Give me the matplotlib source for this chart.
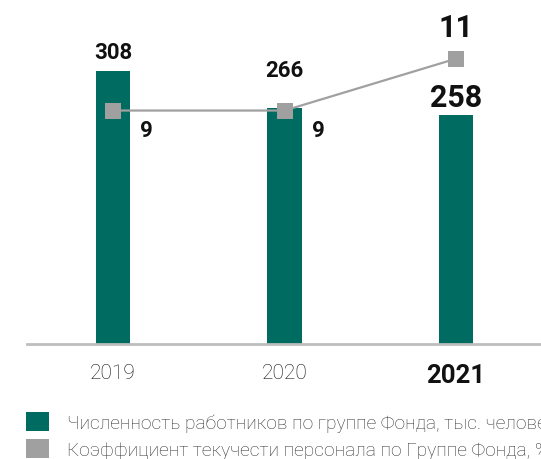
import matplotlib
matplotlib.use("Agg")
import matplotlib.pyplot as plt
from matplotlib.patches import Patch

years = ["2019", "2020", "2021"]
employees = [308, 266, 258]
turnover = [9, 9, 11]
legend_labels = ["Численность работников по группе Фонда, тыс. человек",
                 "Коэффициент текучести персонала по Группе Фонда, %"]

bar_color = "#006b61"
line_color = "#a0a0a0"
text_dark = "#111111"

plt.rcParams['font.family'] = ['Roboto', 'DejaVu Sans']

fig = plt.figure(figsize=(5.41, 4.60), dpi=100)
ax = fig.add_axes([27 / 541, 115 / 460, 515 / 541, 345 / 460])
x = list(range(len(years)))

ax.bar(x, employees, width=0.2, color=bar_color, zorder=2)
ax.set_xlim(-0.5, 2.5)
ax.set_ylim(0, 389.4)

ax2 = ax.twinx()
ax2.plot(x, turnover, color=line_color, lw=1.6, marker='s', markersize=12,
         markeredgewidth=0, zorder=3)
ax2.set_ylim(0, 13.3)

for a in (ax, ax2):
    for s in ("top", "right", "left"):
        a.spines[s].set_visible(False)
    a.set_yticks([])
ax2.spines["bottom"].set_visible(False)
ax.spines["bottom"].set_color("#bdbdbd")
ax.spines["bottom"].set_linewidth(2)

ax.set_xticks(x)
ax.set_xticklabels(years)
ax.tick_params(axis='x', length=0, pad=14)
for i, lbl in enumerate(ax.get_xticklabels()):
    if i == len(years) - 1:
        lbl.set_fontsize(18.5)
        lbl.set_fontweight('bold')
        lbl.set_color(text_dark)
    else:
        lbl.set_fontsize(15)
        lbl.set_fontweight('light')
        lbl.set_color("#111111")

px = 0.72  # points per pixel at 100 dpi

# bar value labels (baseline offsets in pixels)
bar_offsets = [13, 32, 9]
for i, v in enumerate(employees):
    big = i == len(years) - 1
    ax.annotate(str(v), (x[i], v), xytext=(0, bar_offsets[i] * px),
                textcoords='offset points', ha='center', va='baseline',
                fontsize=22 if big else 16, fontweight='bold', color=text_dark)

# line value labels
for i, v in enumerate(turnover):
    if i == len(years) - 1:
        ax2.annotate(str(v), (x[i], v), xytext=(0, 22.5 * px),
                     textcoords='offset points', ha='center', va='baseline',
                     fontsize=22, fontweight='bold', color=text_dark)
    else:
        ax2.annotate(str(v), (x[i], v), xytext=(33.5 * px, -25.5 * px),
                     textcoords='offset points', ha='center', va='baseline',
                     fontsize=16, fontweight='bold', color=text_dark)

handles = [Patch(facecolor=bar_color, edgecolor='none'),
           Patch(facecolor=line_color, edgecolor='none')]
leg = fig.legend(handles, legend_labels, loc='upper left',
                 bbox_to_anchor=(18 / 541, 1 - 405 / 460), frameon=False,
                 fontsize=13.8, handlelength=1.2, handleheight=1.2,
                 handletextpad=0.95, labelspacing=0.35, borderaxespad=0)
for t in leg.get_texts():
    t.set_fontweight('light')
    t.set_color("#333333")

fig.savefig("out.png", dpi=100)
